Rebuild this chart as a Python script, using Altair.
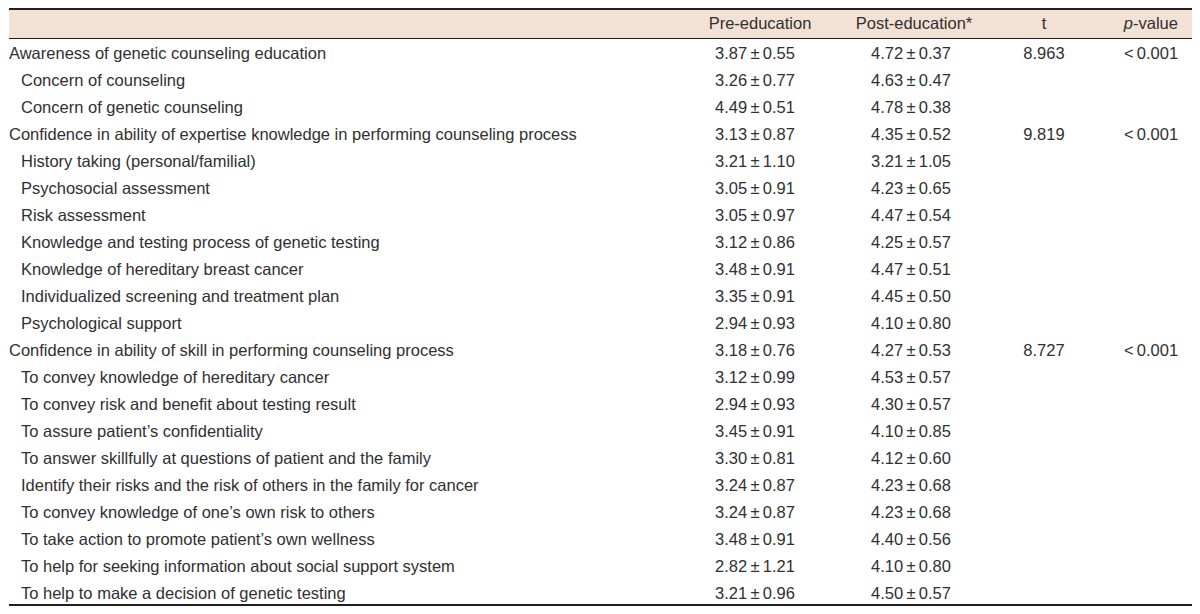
import altair as alt
import pandas as pd

# ---------------- data ----------------
labels = [
    "Awareness of genetic counseling education",
    "Concern of counseling",
    "Concern of genetic counseling",
    "Confidence in ability of expertise knowledge in performing counseling process",
    "History taking (personal/familial)",
    "Psychosocial assessment",
    "Risk assessment",
    "Knowledge and testing process of genetic testing",
    "Knowledge of hereditary breast cancer",
    "Individualized screening and treatment plan",
    "Psychological support",
    "Confidence in ability of skill in performing counseling process",
    "To convey knowledge of hereditary cancer",
    "To convey risk and benefit about testing result",
    "To assure patient\u2019s confidentiality",
    "To answer skillfully at questions of patient and the family",
    "Identify their risks and the risk of others in the family for cancer",
    "To convey knowledge of one\u2019s own risk to others",
    "To take action to promote patient\u2019s own wellness",
    "To help for seeking information about social support system",
    "To help to make a decision of genetic testing",
]
level = [0, 1, 1, 0, 1, 1, 1, 1, 1, 1, 1, 0, 1, 1, 1, 1, 1, 1, 1, 1, 1]
pre_mean = [3.87, 3.26, 4.49, 3.13, 3.21, 3.05, 3.05, 3.12, 3.48, 3.35, 2.94,
            3.18, 3.12, 2.94, 3.45, 3.30, 3.24, 3.24, 3.48, 2.82, 3.21]
pre_sd = [0.55, 0.77, 0.51, 0.87, 1.10, 0.91, 0.97, 0.86, 0.91, 0.91, 0.93,
          0.76, 0.99, 0.93, 0.91, 0.81, 0.87, 0.87, 0.91, 1.21, 0.96]
post_mean = [4.72, 4.63, 4.78, 4.35, 3.21, 4.23, 4.47, 4.25, 4.47, 4.45, 4.10,
             4.27, 4.53, 4.30, 4.10, 4.12, 4.23, 4.23, 4.40, 4.10, 4.50]
post_sd = [0.37, 0.47, 0.38, 0.52, 1.05, 0.65, 0.54, 0.57, 0.51, 0.50, 0.80,
           0.53, 0.57, 0.57, 0.85, 0.60, 0.68, 0.68, 0.56, 0.80, 0.57]
t_stat = [8.963, None, None, 9.819, None, None, None, None, None, None, None,
          8.727, None, None, None, None, None, None, None, None, None]
p_text = ["<\u20090.001", "", "", "<\u20090.001", "", "", "", "", "", "", "",
          "<\u20090.001", "", "", "", "", "", "", "", "", ""]
headers = ["Pre-education", "Post-education*", "t", "p", "-value"]

# ---------------- table ----------------
def ms(m, s):
    return f"{m:.2f}\u2009\u00b1\u2009{s:.2f}"

df = pd.DataFrame({
    "row": list(range(len(labels))),
    "label": labels,
    "level": level,
    "pre": [ms(m, s) for m, s in zip(pre_mean, pre_sd)],
    "post": [ms(m, s) for m, s in zip(post_mean, post_sd)],
    "t": ["" if v is None else f"{v:.3f}" for v in t_stat],
    "p": p_text,
})

W, H = 1184, 598
FONT = "Liberation Sans"
FS = 16.5
TXT = "#303030"
LINE = "#231f20"
BAND = "#f3e1d6"
BAND_H = 30
ROW0 = 46.0
STEP = 27.0
y0 = -ROW0 / STEP
y1 = y0 + H / STEP

yenc = alt.Y("row:Q", axis=None,
             scale=alt.Scale(domain=[y0, y1], reverse=True, nice=False, zero=False))

base = alt.Chart(df)

band = base.mark_rect(color=BAND).encode(
    x=alt.value(0), x2=alt.value(W), y=alt.value(0), y2=alt.value(BAND_H)
)
top_rule = base.mark_rule(color=LINE, strokeWidth=1.6).encode(
    x=alt.value(0), x2=alt.value(W), y=alt.value(0.8)
)
mid_rule = base.mark_rule(color=LINE, strokeWidth=1).encode(
    x=alt.value(0), x2=alt.value(W), y=alt.value(BAND_H + 0.5)
)
bot_rule = base.mark_rule(color=LINE, strokeWidth=1.6).encode(
    x=alt.value(0), x2=alt.value(W), y=alt.value(H - 1)
)

def txt(align="left", style="normal"):
    return dict(font=FONT, fontSize=FS, color=TXT, align=align,
                baseline="middle", fontStyle=style)

main_lab = base.transform_filter("datum.level == 0").mark_text(**txt()).encode(
    x=alt.value(0), y=yenc, text="label:N")
sub_lab = base.transform_filter("datum.level == 1").mark_text(**txt()).encode(
    x=alt.value(12), y=yenc, text="label:N")
pre_t = base.mark_text(**txt("center")).encode(x=alt.value(746), y=yenc, text="pre:N")
post_t = base.mark_text(**txt("center")).encode(x=alt.value(902), y=yenc, text="post:N")
t_t = base.mark_text(**txt("center")).encode(x=alt.value(1035), y=yenc, text="t:N")
p_t = base.mark_text(**txt("center")).encode(x=alt.value(1142), y=yenc, text="p:N")

hdr_y = BAND_H / 2 + 0.5
hdr_pos = [(751, "center", "normal"), (905, "center", "normal"),
           (1035, "center", "normal"), (1124, "right", "italic"),
           (1124, "left", "normal")]
hdr = [
    alt.Chart(df).transform_filter("datum.row == 0").mark_text(**txt(a, s)).encode(
        x=alt.value(xp), y=alt.value(hdr_y), text=alt.value(h))
    for h, (xp, a, s) in zip(headers, hdr_pos)
]

chart = alt.layer(
    band, top_rule, mid_rule, bot_rule,
    main_lab, sub_lab, pre_t, post_t, t_t, p_t, *hdr
).properties(
    width=W, height=H,
    autosize=alt.AutoSizeParams(type="fit", contains="padding"),
    padding=0,
).configure_view(stroke=None)

chart.save("out.html", embed_options={"renderer": "svg", "actions": False})
